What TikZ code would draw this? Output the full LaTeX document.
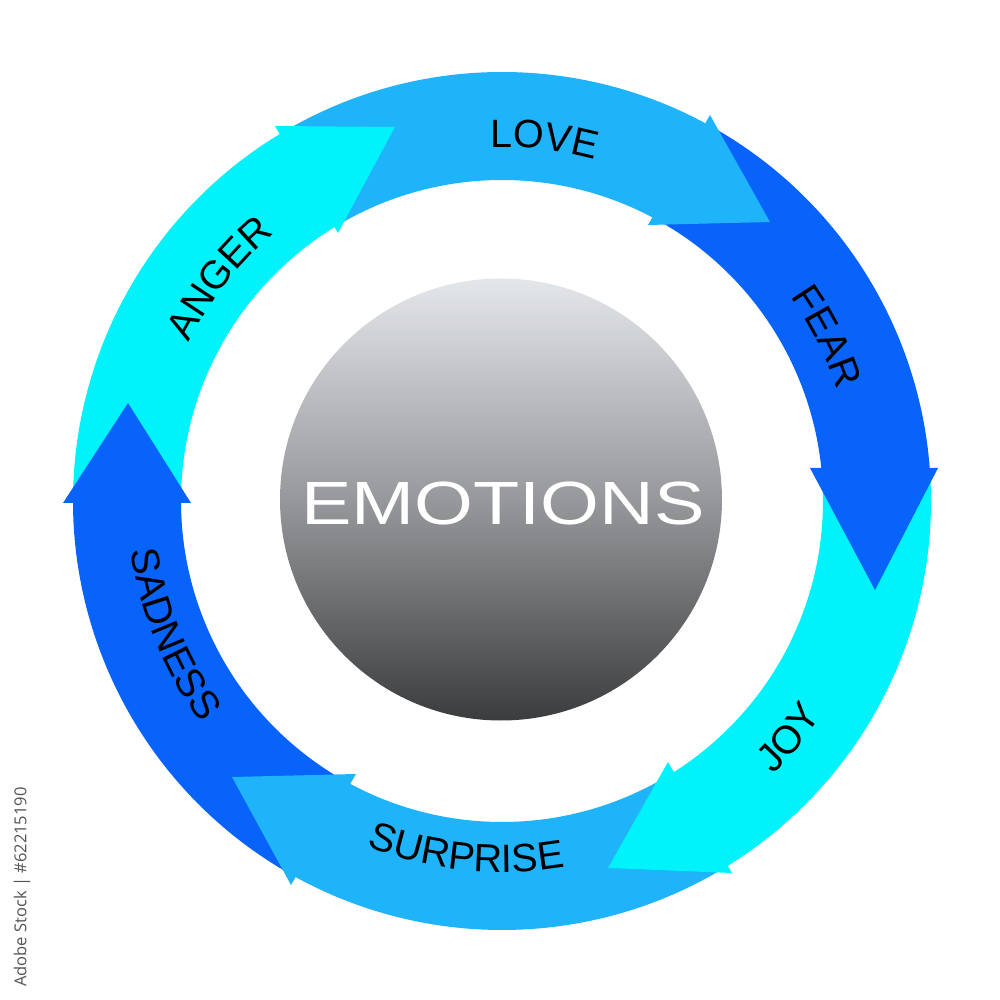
\documentclass[tikz,border=0pt]{standalone}
\usepackage{fontspec}
\setmainfont{Liberation Sans}
\newfontfamily\emoStockFont{Open Sans}
\usetikzlibrary{decorations.text}
\definecolor{midblue}{RGB}{31,180,250}
\definecolor{darkblue}{RGB}{8,99,250}
\definecolor{cyanarrow}{RGB}{0,242,250}
\definecolor{emoTop}{RGB}{228,231,234}
\definecolor{emoMid}{RGB}{150,152,155}
\definecolor{emoBot}{RGB}{58,60,62}
\definecolor{stockgray}{RGB}{85,85,85}
\newcommand{\emoLabelFont}{\fontsize{39.5pt}{39.5pt}\selectfont}
% annular sector: colour, start angle, end angle
\newcommand{\emoSector}[3]{%
  \fill[#1] (#2:429pt) arc[start angle=#2, end angle=#3, radius=429pt]
    -- (#3:321pt) arc[start angle=#3, end angle=#2, radius=321pt] -- cycle;}
% clockwise label (letter tops outward): text, centre angle, baseline radius
\newcommand{\emoLabelCW}[3]{%
  \path[decorate, decoration={text along path, text align=center,
      text={|\emoLabelFont|#1}}]
    ({#2+40}:#3pt) arc[start angle={#2+40}, end angle={#2-40}, radius=#3pt];}
% counter-clockwise label (letter tops inward)
\newcommand{\emoLabelCCW}[3]{%
  \path[decorate, decoration={text along path, text align=center,
      text={|\emoLabelFont|#1}}]
    ({#2-40}:#3pt) arc[start angle={#2-40}, end angle={#2+40}, radius=#3pt];}
\begin{document}
\begin{tikzpicture}[head/.style={fill=#1, draw=none}]
\useasboundingbox (-502pt,-499pt) rectangle (498pt,501pt);
\fill[white] (-502pt,-499pt) rectangle (498pt,501pt);

% arrow bodies (each runs a little past its own head base, hidden by the head)
\emoSector{cyanarrow}{179}{120}
\emoSector{midblue}{120}{61}
\emoSector{darkblue}{61}{3}
\emoSector{cyanarrow}{3}{-59}
\emoSector{midblue}{-59}{-119.5}
\emoSector{darkblue}{-119.5}{-181}

% arrow heads
\coordinate (angerTip) at (-107pt,374pt);
\coordinate (angerOut) at (-227pt,375pt);
\coordinate (angerIn)  at (-164pt,268pt);
\coordinate (loveTip)  at (268pt,279pt);
\coordinate (loveOut)  at (208pt,386pt);
\coordinate (loveIn)   at (146pt,276pt);
\coordinate (fearTip)  at (373pt,-89pt);
\coordinate (fearIn)   at (308pt,33pt);
\coordinate (fearOut)  at (436pt,33pt);
\coordinate (joyTip)   at (106pt,-367pt);
\coordinate (joyIn)    at (166pt,-261pt);
\coordinate (joyOut)   at (230pt,-372pt);
\coordinate (surTip)   at (-270pt,-276pt);
\coordinate (surIn)    at (-146pt,-273pt);
\coordinate (surOut)   at (-211pt,-384pt);
\coordinate (sadTip)   at (-374pt,98pt);
\coordinate (sadOut)   at (-439pt,-2pt);
\coordinate (sadIn)    at (-311pt,-2pt);

\fill[head=cyanarrow] (angerOut) -- (angerTip) -- (angerIn) -- cycle;
\fill[head=midblue]   (loveOut) -- (loveTip) -- (loveIn) -- cycle;
\fill[head=darkblue]  (fearIn) -- (fearTip) -- (fearOut) -- cycle;
\fill[head=cyanarrow] (joyIn) -- (joyTip) -- (joyOut) -- cycle;
\fill[head=midblue]   (surIn) -- (surTip) -- (surOut) -- cycle;
\fill[head=darkblue]  (sadOut) -- (sadTip) -- (sadIn) -- cycle;

% labels
\emoLabelCW{LOVE}{83.3}{354}
\emoLabelCW{FEAR}{26.8}{353}
\emoLabelCW{ANGER}{141.8}{351}
\emoLabelCCW{JOY}{-39.5}{385}
\emoLabelCCW{SURPRISE}{-95.8}{371}
\emoLabelCCW{SADNESS}{-158}{374}

% centre disc
\shade[top color=emoTop, bottom color=emoBot, middle color=emoMid]
  (-1pt,1.5pt) circle[radius=221pt];
\node[anchor=base, text=white, inner sep=0pt] (title) at (1pt,-24pt)
  {\scalebox{1.24}[1]{\fontsize{61pt}{61pt}\selectfont EMOTIONS}};

% stock id
\node[rotate=90, text=stockgray, inner sep=0pt] (stockid) at (-480pt,-386pt)
  {\emoStockFont\fontsize{16.5pt}{16.5pt}\selectfont Adobe Stock | \#62215190};
\end{tikzpicture}
\end{document}
